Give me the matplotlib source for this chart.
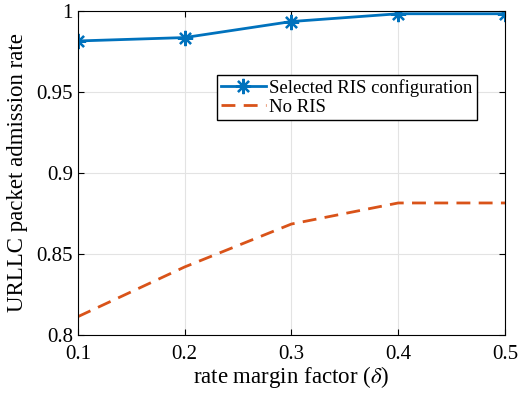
import matplotlib.pyplot as plt
import numpy as np

plt.rcParams['font.family'] = ['Liberation Serif', 'DejaVu Serif']
plt.rcParams['mathtext.fontset'] = 'stix'

rate_margin = [0.1, 0.2, 0.3, 0.4, 0.5]
ris_selected = [0.9815, 0.9836, 0.9935, 0.9983, 0.9983]
no_ris = [0.8113, 0.842, 0.8685, 0.8815, 0.8815]

fig = plt.figure(figsize=(5.19, 4.0), dpi=100)
ax = fig.add_axes([0.150, 0.1625, 0.823, 0.81])

# asterisk like matlab's '*'
ax.plot(rate_margin, ris_selected, '-', marker=(8, 2, 0), color='#0072BD', lw=2,
        ms=11, mew=1.6, label='Selected RIS configuration')
ax.plot(rate_margin, no_ris, '--', color='#D95319', lw=2, dashes=(5, 3),
        label='No RIS')

ax.set_xlim(0.1, 0.5)
ax.set_ylim(0.8, 1.0)
ax.set_xticks([0.1, 0.2, 0.3, 0.4, 0.5])
ax.set_yticks([0.8, 0.85, 0.9, 0.95, 1.0])
ax.set_xticklabels(['0.1', '0.2', '0.3', '0.4', '0.5'])
ax.set_yticklabels(['0.8', '0.85', '0.9', '0.95', '1'])
ax.tick_params(direction='in', labelsize=15, top=True, right=True, length=4)
ax.tick_params(axis='x', pad=7)
ax.grid(True, color='#e3e3e3', lw=0.8)
for s in ax.spines.values():
    s.set_linewidth(0.8)

ax.set_xlabel(r'rate margin factor ($\delta$)', fontsize=16.5, labelpad=0)
ax.set_ylabel('URLLC packet admission rate', fontsize=16.5, labelpad=6)

ax.legend(loc='upper left', bbox_to_anchor=(0.3255, 0.802), fontsize=13.5,
          fancybox=False, edgecolor='black', framealpha=1, borderpad=0.2,
          handlelength=2.4, handletextpad=0.2, labelspacing=0.1, borderaxespad=0)

fig.savefig('out.png', dpi=100)
